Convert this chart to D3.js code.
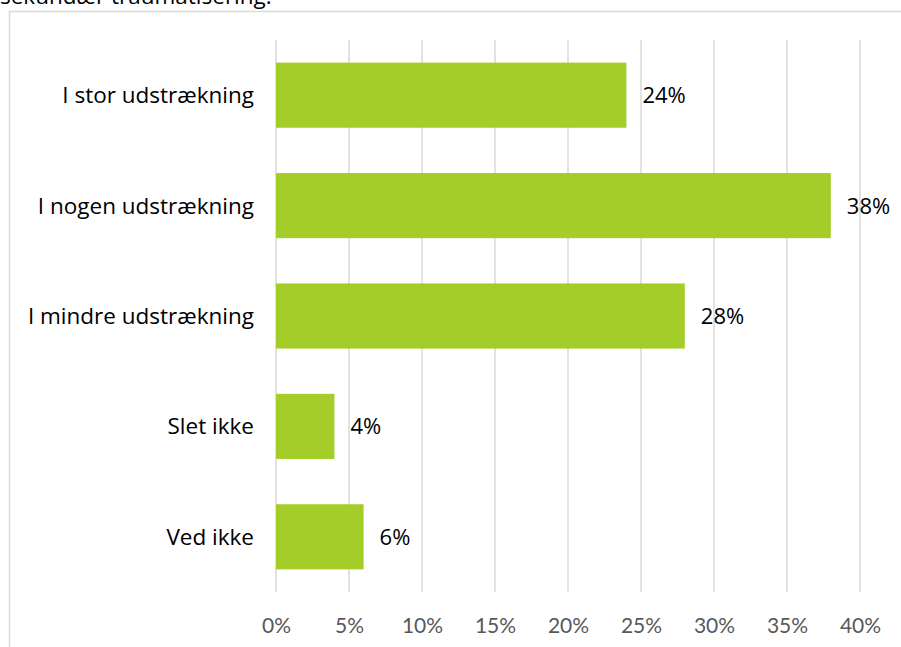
<!DOCTYPE html>
<html><head><meta charset="utf-8">
<script src="https://cdn.jsdelivr.net/npm/d3@7"></script>
<style>body{margin:0;background:#fff;}svg{display:block;}</style>
</head><body>
<script>
const categories = ["I stor udstrækning","I nogen udstrækning","I mindre udstrækning","Slet ikke","Ved ikke"];
const values = [0.24, 0.38, 0.28, 0.04, 0.06];
const valueLabels = ["24%","38%","28%","4%","6%"];
const ticks = [0,0.05,0.10,0.15,0.20,0.25,0.30,0.35,0.40];
const title = "sekundær traumatisering.";

const W = 901, H = 647;
const svg = d3.select("body").append("svg").attr("width", W).attr("height", H);
const font = "'Open Sans', Lato, sans-serif";
const tickFont = "Lato, 'Open Sans', sans-serif";

svg.append("text").attr("x", 0).attr("y", 4).attr("font-family", font)
  .attr("font-size", 22.5).attr("fill", "#000").text(title);

svg.append("rect").attr("x", 9.5).attr("y", 11.5).attr("width", 1000).attr("height", 1000)
  .attr("fill", "none").attr("stroke", "#D9D9D9").attr("stroke-width", 1.5);

const x = d3.scaleLinear().domain([0, 0.40]).range([276, 860]);
const y = d3.scaleBand().domain(categories).range([40, 592]).paddingInner(0.41).paddingOuter(0.205);

svg.append("g").selectAll("line").data(ticks).join("line")
  .attr("x1", d => x(d)).attr("x2", d => x(d)).attr("y1", 40).attr("y2", 592)
  .attr("stroke", "#D9D9D9").attr("stroke-width", 1.5);

const xAxis = svg.append("g").attr("transform", "translate(0,592)")
  .call(d3.axisBottom(x).tickValues(ticks).tickSize(0).tickPadding(0).tickFormat(d3.format(".0%")));
xAxis.select(".domain").remove();
xAxis.selectAll("text").attr("y", 41).attr("dy", 0).attr("font-family", tickFont)
  .attr("font-size", 21).attr("fill", "#595959");

const data = categories.map((c, i) => ({c, v: values[i], l: valueLabels[i]}));
svg.append("g").selectAll("rect").data(data).join("rect")
  .attr("x", x(0)).attr("y", d => y(d.c)).attr("width", d => x(d.v) - x(0))
  .attr("height", y.bandwidth()).attr("fill", "#A4CD2A");

svg.append("g").selectAll("text").data(data).join("text")
  .attr("x", d => x(d.v) + 16).attr("y", d => y(d.c) + y.bandwidth() / 2 + 8)
  .attr("font-family", font).attr("font-size", 22).attr("fill", "#000").text(d => d.l);

svg.append("g").selectAll("text").data(data).join("text")
  .attr("x", 254).attr("y", d => y(d.c) + y.bandwidth() / 2 + 8).attr("text-anchor", "end")
  .attr("font-family", font).attr("font-size", 22.5).attr("fill", "#000").text(d => d.c);
</script>
</body></html>
